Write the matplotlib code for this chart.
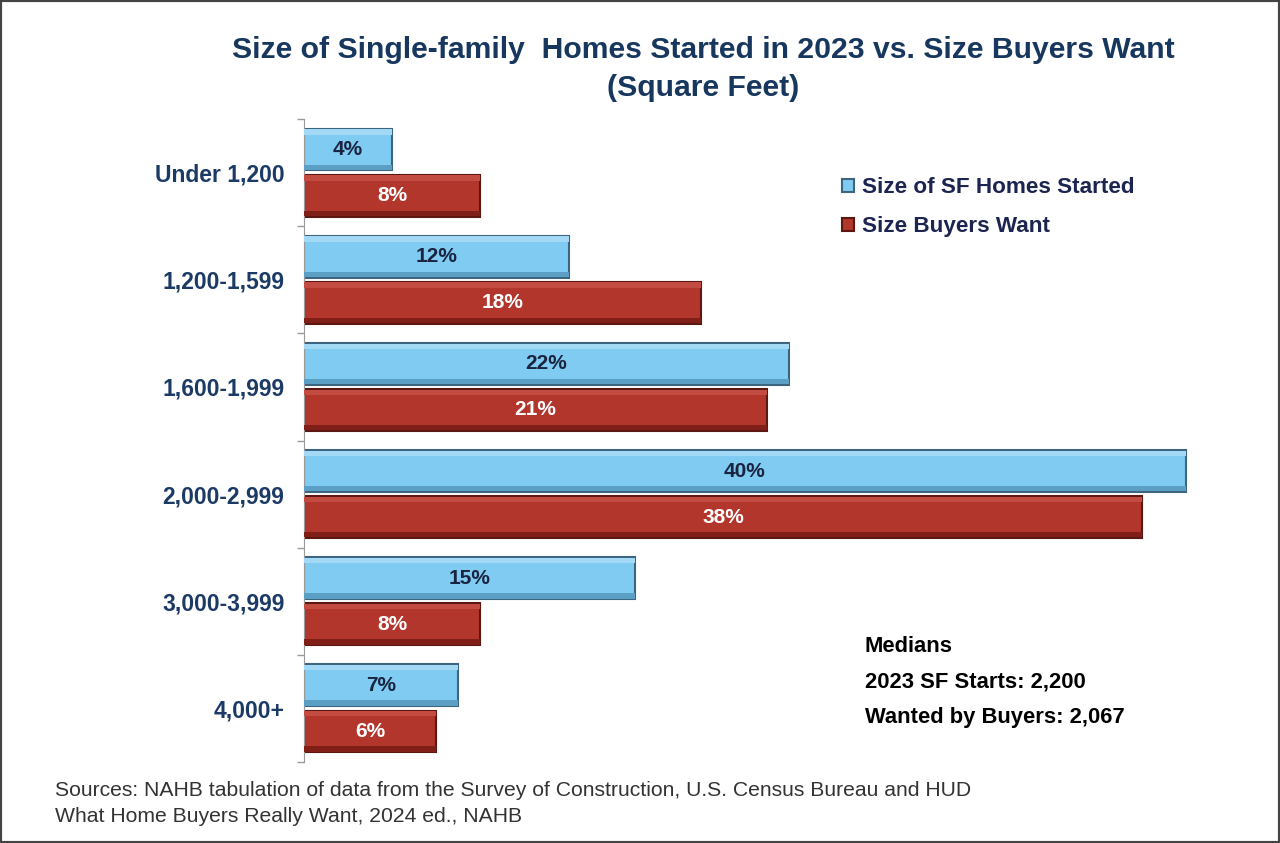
import matplotlib.pyplot as plt
import matplotlib.patches as mpatches
import numpy as np

plt.rcParams['font.family'] = ['Liberation Sans', 'DejaVu Sans']

# data
categories = ["Under 1,200", "1,200-1,599", "1,600-1,999", "2,000-2,999", "3,000-3,999", "4,000+"]
started = [4, 12, 22, 40, 15, 7]     # Size of SF Homes Started (%)
wanted = [8, 18, 21, 38, 8, 6]       # Size Buyers Want (%)
median_lines = ["Medians", "2023 SF Starts: 2,200", "Wanted by Buyers: 2,067"]
source_lines = ["Sources: NAHB tabulation of data from the Survey of Construction, U.S. Census Bureau and HUD",
                "What Home Buyers Really Want, 2024 ed., NAHB"]

blue = "#80cbf2"
blue_light = "#a3d9f5"
blue_dark = "#5b9fc4"
blue_edge = "#3d6580"
red = "#b3362c"
red_light = "#c24c41"
red_dark = "#7f1f18"
red_edge = "#5c1712"
navy = "#1b3a66"

fig = plt.figure(figsize=(12.8, 8.43), dpi=100)
ax = fig.add_axes([304/1280, 1-762/843, (1208-304)/1280, (762-119)/843])

y = np.arange(len(categories))
off = 0.215
h = 0.39


def bevel_bars(pos, vals, face, light, dark, edge, label):
    # main bar plus a light top strip and dark bottom strip for the 3D look
    bars = ax.barh(pos, vals, height=h, color=face, edgecolor=edge, linewidth=1.5, label=label, zorder=2)
    ax.barh(pos - h/2 + 0.03, vals, height=0.05, color=light, linewidth=0, zorder=3)
    ax.barh(pos + h/2 - 0.03, vals, height=0.05, color=dark, linewidth=0, zorder=3)
    return bars


b1 = bevel_bars(y - off, started, blue, blue_light, blue_dark, blue_edge, "Size of SF Homes Started")
b2 = bevel_bars(y + off, wanted, red, red_light, red_dark, red_edge, "Size Buyers Want")

for rect, v in zip(b1, started):
    ax.text(v/2, rect.get_y() + rect.get_height()/2, f"{v}%", ha="center", va="center",
            fontsize=15, fontweight="bold", color="#1a2440", zorder=4)
for rect, v in zip(b2, wanted):
    ax.text(v/2, rect.get_y() + rect.get_height()/2, f"{v}%", ha="center", va="center",
            fontsize=15, fontweight="bold", color="white", zorder=4)

ax.set_xlim(0, 41)
ax.set_ylim(len(categories) - 0.5, -0.5)
ax.set_yticks(y)
ax.set_yticklabels(categories, fontsize=16.5, fontweight="bold", color=navy)
ax.set_yticks(np.arange(-0.5, len(categories)), minor=True)
ax.tick_params(axis="y", which="major", length=0, pad=14)
ax.tick_params(axis="y", which="minor", length=5, color="#999999", width=1)
ax.set_xticks([])
for s in ["top", "right", "bottom"]:
    ax.spines[s].set_visible(False)
ax.spines["left"].set_color("#999999")

leg = ax.legend(loc="upper left", bbox_to_anchor=((822-304)/904, 1-(157-119)/643),
                frameon=False, handlelength=0.5, handleheight=0.5, handletextpad=0.4,
                labelspacing=0.8, prop={"size": 16.2, "weight": "bold"})
for t in leg.get_texts():
    t.set_color("#1c2450")

fig.text(703/1280, 1-50/843, "Size of Single-family  Homes Started in 2023 vs. Size Buyers Want",
         ha="center", va="center", fontsize=21.7, fontweight="bold", color="#17375e")
fig.text(703/1280, 1-88/843, "(Square Feet)", ha="center", va="center",
         fontsize=21.7, fontweight="bold", color="#17375e")

for i, line in enumerate(median_lines):
    fig.text(865/1280, 1-(646 + i*36)/843, line, ha="left", va="center",
             fontsize=15.8, fontweight="bold", color="black")

for i, line in enumerate(source_lines):
    fig.text(55/1280, 1-(791 + i*25)/843, line, ha="left", va="center",
             fontsize=15.2, color="#333333")

fig.patches.append(mpatches.Rectangle((0, 0), 1, 1, transform=fig.transFigure, fill=False,
                                      edgecolor="#444444", linewidth=3))

fig.savefig("out.png", dpi=100)
